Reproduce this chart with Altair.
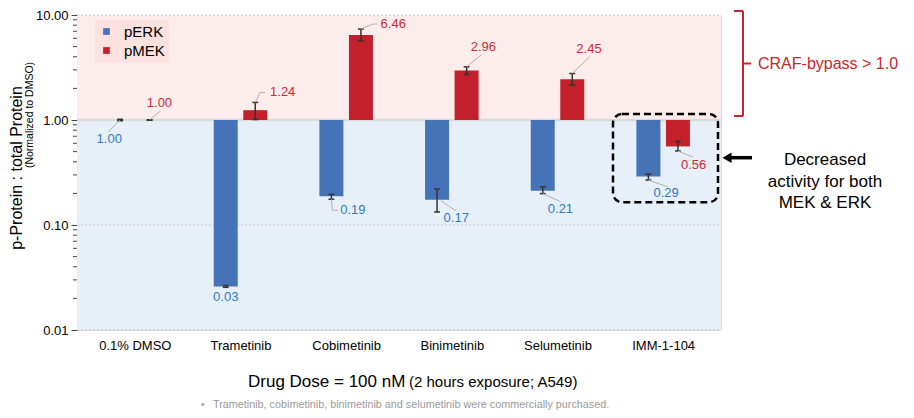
import json
import altair as alt
import pandas as pd

# ---------------- data ----------------
categories = ["0.1% DMSO", "Trametinib", "Cobimetinib", "Binimetinib", "Selumetinib", "IMM-1-104"]
series = ["pERK", "pMEK"]
perk = [1.00, 0.026, 0.188, 0.174, 0.212, 0.29]
perk_lo = [0.985, 0.0255, 0.176, 0.133, 0.199, 0.268]
perk_hi = [1.015, 0.0265, 0.196, 0.22, 0.231, 0.305]
pmek = [1.00, 1.24, 6.46, 2.96, 2.45, 0.56]
pmek_lo = [0.995, 1.01, 5.7, 2.71, 2.15, 0.507]
pmek_hi = [1.005, 1.47, 7.35, 3.21, 2.77, 0.627]
y_ticks = [0.01, 0.1, 1, 10]
minor_ticks = [m * 10 ** k for k in (-2, -1, 0) for m in range(2, 10)]

# ---------------- layout / style ----------------
W, H = 644, 315
PX_X = W / 6.0
PX_DEC = H / 3.0
FONT = "Liberation Sans"
BLUE, RED = "#4672b8", "#c4202b"
BLUE_T, RED_T = "#2b7bca", "#cf2a2f"
OFF = 15 / PX_X

# label layout: (anchor, leader offsets px, text offset px, align)
erk_layout = [
    ("v", [(0, 0), (-12, 12)], (-11, 19), "center"),
    ("v", [], (0, 11), "center"),
    ("e", [(0, 0), (1, 11), (7, 11)], (9, 11), "left"),
    ("v", [(4, 1), (19, 11)], (19.5, 18), "center"),
    ("e", [(0, 0), (18, 8)], (18, 15), "center"),
    ("e", [(0, 0), (20, 7)], (18, 13), "center"),
]
mek_layout = [
    ("v", [(0, 0), (11, -9)], (10, -17), "center"),
    ("e", [(0, 0), (5, -10), (10, -10)], (15, -10), "left"),
    ("e", [(0, 0), (12, -5), (17, -5)], (20, -5), "left"),
    ("e", [(0, 0), (15, -12)], (17, -20), "center"),
    ("e", [(0, 0), (18, -17)], (17, -25), "center"),
    ("e", [(0, 0), (15, 6)], (16, 14), "center"),
]

bar_rows, cap_rows, lab_rows, lead_rows = [], [], [], []
CAP = 3 / PX_X
for s, vals, los, his, lay, off in [("pERK", perk, perk_lo, perk_hi, erk_layout, -OFF),
                                     ("pMEK", pmek, pmek_lo, pmek_hi, mek_layout, OFF)]:
    for i, cat in enumerate(categories):
        x = i + off
        v, lo, hi = vals[i], los[i], his[i]
        bar_rows.append(dict(cat=cat, series=s, x=x, value=v, lo=lo, hi=hi, base=1.0))
        for yy in (lo, hi):
            cap_rows.append(dict(x1=x - CAP, x2=x + CAP, y=yy))
        kind, leads, (tdx, tdy), align = lay[i]
        anchor = v if kind == "v" else (hi if v > 1 else lo)
        lab_rows.append(dict(series=s, al=align, label=f"{v:.2f}",
                             lx=x + tdx / PX_X, ly=anchor * 10 ** (-tdy / PX_DEC)))
        for k, (ldx, ldy) in enumerate(leads):
            lead_rows.append(dict(id=f"{s}{i}", o=k, lx=x + ldx / PX_X,
                                  ly=anchor * 10 ** (-ldy / PX_DEC)))

bars = pd.DataFrame(bar_rows)
caps = pd.DataFrame(cap_rows)
labs = pd.DataFrame(lab_rows)
leads = pd.DataFrame(lead_rows)
bg = pd.DataFrame({"y": [10, 1], "y2": [1, 0.01], "c": ["#fdecec", "#e7f0f8"]})
grid = pd.DataFrame({"y": [10, 0.1, 0.01]})
minor = pd.DataFrame({"y": minor_ticks})

yscale = alt.Scale(type="log", domain=[0.01, 10], nice=False)
xscale = alt.Scale(domain=[-0.5, 5.5], nice=False, zero=False)
y_axis = alt.Axis(values=y_ticks, format=".2f", grid=False, domainColor="#444",
                  tickColor="#444", tickSize=6, labelFontSize=13, labelColor="black",
                  labelFont=FONT, labelPadding=3, title=None)
x_axis = alt.Axis(values=list(range(6)),
                  labelExpr=json.dumps(categories) + "[datum.value]",
                  domain=False, ticks=False, grid=False, labelFontSize=13,
                  labelColor="black", labelFont=FONT, labelPadding=9, title=None)


def X(f):
    return alt.X(f, scale=xscale, axis=x_axis)


def Y(f):
    return alt.Y(f, scale=yscale, axis=y_axis)


layers = []
# background bands
layers.append(alt.Chart(bg).mark_rect().encode(
    x=alt.value(0), x2=alt.value(W), y=Y("y:Q"), y2="y2:Q",
    color=alt.Color("c:N", scale=None)))
# grid lines
layers.append(alt.Chart(grid).mark_rule(color="#c4c4c4", strokeDash=[2, 2], strokeWidth=1).encode(
    x=alt.value(0), x2=alt.value(W), y=Y("y:Q")))
layers.append(alt.Chart(pd.DataFrame({"y": [1.0]})).mark_rule(color="#d9d9d9", strokeWidth=2.5).encode(
    x=alt.value(0), x2=alt.value(W), y=Y("y:Q")))
# minor ticks
layers.append(alt.Chart(minor).mark_rule(color="#444", strokeWidth=1).encode(
    x=alt.value(-4), x2=alt.value(0), y=Y("y:Q")))
# bars
layers.append(alt.Chart(bars).mark_bar(size=24).encode(
    x=X("x:Q"), y=Y("value:Q"), y2="base:Q",
    color=alt.Color("series:N", scale=alt.Scale(domain=series, range=[BLUE, RED]),
                    legend=alt.Legend(orient="none", legendX=18, legendY=5, title=None,
                                      symbolType="square", symbolSize=45, labelFontSize=15,
                                      labelFont=FONT, labelColor="black", fillColor="#fbe1df",
                                      padding=4, rowPadding=3, labelOffset=10,
                                      symbolStrokeWidth=0))))
# error bars
layers.append(alt.Chart(bars).mark_rule(color="#333", strokeWidth=1.5).encode(
    x=X("x:Q"), y=Y("lo:Q"), y2="hi:Q"))
layers.append(alt.Chart(caps).mark_rule(color="#333", strokeWidth=1.5).encode(
    x=X("x1:Q"), x2="x2:Q", y=Y("y:Q")))
# leader lines
layers.append(alt.Chart(leads).mark_line(color="#b0b0b0", strokeWidth=1).encode(
    x=X("lx:Q"), y=Y("ly:Q"), detail="id:N", order="o:Q"))
# value labels
for s, col in (("pERK", BLUE_T), ("pMEK", RED_T)):
    for al in ("left", "center"):
        sub = labs[(labs["series"] == s) & (labs["al"] == al)]
        if len(sub):
            layers.append(alt.Chart(sub).mark_text(align=al, baseline="middle", fontSize=13,
                                                   font=FONT, color=col).encode(
                x=X("lx:Q"), y=Y("ly:Q"), text="label:N"))

# axis titles
layers.append(alt.Chart().mark_text(text="p-Protein : total Protein", angle=270, fontSize=16,
                                    font=FONT, color="black", align="center", baseline="middle").encode(
    x=alt.value(-60), y=alt.value(153)))
layers.append(alt.Chart().mark_text(text="(Normalized to DMSO)", angle=270, fontSize=10.5,
                                    font=FONT, color="black", align="center", baseline="middle").encode(
    x=alt.value(-47), y=alt.value(100)))
layers.append(alt.Chart().mark_text(text="Drug Dose = 100 nM", fontSize=17, font=FONT,
                                    color="black", align="left", baseline="middle").encode(
    x=alt.value(171), y=alt.value(367)))
layers.append(alt.Chart().mark_text(text="(2 hours exposure; A549)", fontSize=15, font=FONT,
                                    color="black", align="left", baseline="middle").encode(
    x=alt.value(332), y=alt.value(367)))
layers.append(alt.Chart().mark_text(text="•", fontSize=10, font=FONT, color="#9a9a9a",
                                    align="left", baseline="middle").encode(
    x=alt.value(124), y=alt.value(390)))
layers.append(alt.Chart().mark_text(
    text="Trametinib, cobimetinib, binimetinib and selumetinib were commercially purchased.",
    fontSize=10.8, font=FONT, color="#9a9a9a", align="left", baseline="middle").encode(
    x=alt.value(136), y=alt.value(390)))

# CRAF bracket
BR = "#c9252c"
for (x1, x2, y1, y2) in [(657, 666, -4, -4), (666, 666, -4, 101), (657, 666, 101, 101),
                         (666, 674, 48.5, 48.5)]:
    layers.append(alt.Chart().mark_rule(color=BR, strokeWidth=2).encode(
        x=alt.value(x1), x2=alt.value(x2), y=alt.value(y1), y2=alt.value(y2)))
layers.append(alt.Chart().mark_text(text="CRAF-bypass > 1.0", fontSize=16, font=FONT, color=BR,
                                    align="left", baseline="middle").encode(
    x=alt.value(681), y=alt.value(48.5)))

# dashed box + arrow + note
layers.append(alt.Chart().mark_rect(fillOpacity=0, stroke="black", strokeWidth=2.5,
                                    strokeDash=[7, 4], cornerRadius=9).encode(
    x=alt.value(536), x2=alt.value(641), y=alt.value(99), y2=alt.value(187.2)))
layers.append(alt.Chart().mark_rule(color="black", strokeWidth=3.5).encode(
    x=alt.value(652), x2=alt.value(675), y=alt.value(142.7), y2=alt.value(142.7)))
layers.append(alt.Chart().mark_point(shape="triangle-left", filled=True, size=110,
                                     color="black", opacity=1).encode(
    x=alt.value(650), y=alt.value(142.7)))
layers.append(alt.Chart().mark_text(text=["Decreased", "activity for both", "MEK & ERK"],
                                    fontSize=17, font=FONT, color="black", align="center",
                                    baseline="middle", lineHeight=21.5).encode(
    x=alt.value(748), y=alt.value(145)))

chart = alt.layer(*layers).properties(
    width=W, height=H,
    padding={"left": 69, "top": 7, "right": 185, "bottom": 80},
    autosize=alt.AutoSizeParams(type="none"),
).configure_view(stroke=None).configure(background="white")

chart.save("out.html", embed_options={"renderer": "svg", "actions": False})
